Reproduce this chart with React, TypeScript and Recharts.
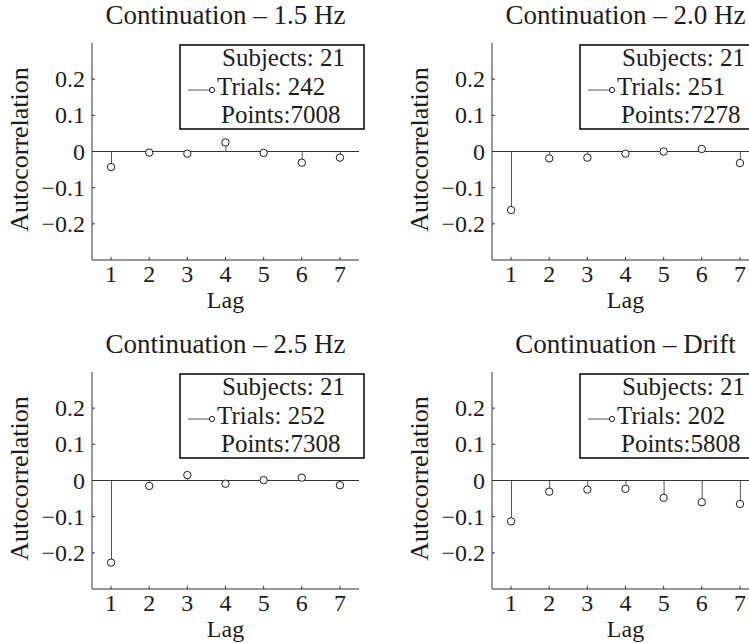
import React from "react"
import { ComposedChart, Bar, Scatter, XAxis, YAxis, ReferenceLine } from "recharts"

const lags = [1, 2, 3, 4, 5, 6, 7]
const yTicks = [-0.2, -0.1, 0, 0.1, 0.2]

const titles = ["Continuation – 1.5 Hz", "Continuation – 2.0 Hz", "Continuation – 2.5 Hz", "Continuation – Drift"]
const subjects = [21, 21, 21, 21]
const trials = [242, 251, 252, 202]
const points = [7008, 7278, 7308, 5808]

const acf15 = [-0.043, -0.003, -0.006, 0.025, -0.004, -0.031, -0.017]
const acf20 = [-0.162, -0.019, -0.017, -0.006, 0.0, 0.007, -0.032]
const acf25 = [-0.227, -0.015, 0.015, -0.009, 0.001, 0.008, -0.013]
const acfDrift = [-0.113, -0.031, -0.025, -0.023, -0.048, -0.06, -0.065]

const series = [acf15, acf20, acf25, acfDrift]

const FONT = "Liberation Serif"
const INK = "#1c1c1c"

const fmtY = (v: number) => (v === 0 ? "0" : v < 0 ? "\u2212" + Math.abs(v).toFixed(1) : v.toFixed(1))

function Circle(props: any) {
  const { cx, cy } = props
  return <circle cx={cx} cy={cy} r={3.7} fill="#fff" stroke={INK} strokeWidth={1} />
}

// tick text drawn by hand so the size and font stick
function XTick(props: any) {
  const { x, y, payload } = props
  return (
    <text x={x} y={y + 15} textAnchor="middle" fill={INK} style={{ fontSize: 24, fontFamily: FONT }}>
      {payload.value}
    </text>
  )
}

function YTick(props: any) {
  const { x, y, payload } = props
  return (
    <text x={x} y={y + 8} textAnchor="end" fill={INK} style={{ fontSize: 24, fontFamily: FONT }}>
      {fmtY(payload.value)}
    </text>
  )
}

function Panel({ idx, left, top }: { idx: number; left: number; top: number }) {
  const data = lags.map((lag, i) => ({ lag, r: series[idx][i] }))
  return (
    <div style={{ position: "absolute", left, top, width: 375, height: 320 }}>
      <ComposedChart width={375} height={320} data={data} margin={{ top: 43, right: 16, bottom: 10, left: 0 }}>
        <XAxis
          type="number"
          dataKey="lag"
          domain={[0.5, 7.5]}
          ticks={lags}
          height={50}
          stroke="#333"
          tickSize={-3}
          tickMargin={10}
          tick={<XTick />}
          label={{
            content: ({ viewBox }: any) => (
              <text
                x={viewBox.x + viewBox.width / 2}
                y={viewBox.y + 48}
                textAnchor="middle"
                fill={INK}
                style={{ fontSize: 24, fontFamily: FONT }}
              >
                Lag
              </text>
            ),
          }}
        />
        <YAxis
          type="number"
          domain={[-0.3, 0.3]}
          ticks={yTicks}
          width={92}
          allowDataOverflow
          stroke="#333"
          tickSize={-3}
          tickMargin={10}
          tick={<YTick />}
          label={{
            content: ({ viewBox }: any) => {
              const cy = viewBox.y + viewBox.height / 2 - 2
              return (
                <text
                  x={28}
                  y={cy}
                  transform={`rotate(-90, 28, ${cy})`}
                  textAnchor="middle"
                  fill={INK}
                  style={{ fontSize: 26, fontFamily: FONT }}
                >
                  Autocorrelation
                </text>
              )
            },
          }}
        />
        <ReferenceLine y={0} stroke="#333" strokeWidth={1} />
        <Bar dataKey="r" barSize={1} fill="#555" isAnimationActive={false} />
        <Scatter dataKey="r" shape={<Circle />} isAnimationActive={false} />
      </ComposedChart>
      <svg
        width={375}
        height={320}
        style={{ position: "absolute", left: 0, top: 0, pointerEvents: "none", overflow: "visible" }}
      >
        <text x={225.5} y={24} textAnchor="middle" fill={INK} style={{ fontSize: 27, fontFamily: FONT }}>
          {titles[idx]}
        </text>
        <g transform="translate(180, 45)">
          <rect x={0} y={0} width={184} height={84} fill="#fff" stroke="#111" strokeWidth={1.6} />
          <line x1={8} y1={45} x2={29} y2={45} stroke="#555" strokeWidth={1} />
          <circle cx={32} cy={45} r={2.6} fill="#fff" stroke={INK} strokeWidth={1} />
          <g fill={INK} style={{ fontSize: 25, fontFamily: FONT }}>
            <text x={42} y={21}>{`Subjects: ${subjects[idx]}`}</text>
            <text x={37} y={50}>{`Trials: ${trials[idx]}`}</text>
            <text x={41} y={78}>{`Points:${points[idx]}`}</text>
          </g>
        </g>
      </svg>
    </div>
  )
}

export default function App() {
  return (
    <div
      style={{
        position: "fixed",
        left: 0,
        top: 0,
        width: 749,
        height: 643,
        overflow: "hidden",
        background: "#fff",
        fontFamily: FONT,
      }}
    >
      <Panel idx={0} left={0} top={0} />
      <Panel idx={1} left={400} top={0} />
      <Panel idx={2} left={0} top={329} />
      <Panel idx={3} left={400} top={329} />
    </div>
  )
}
